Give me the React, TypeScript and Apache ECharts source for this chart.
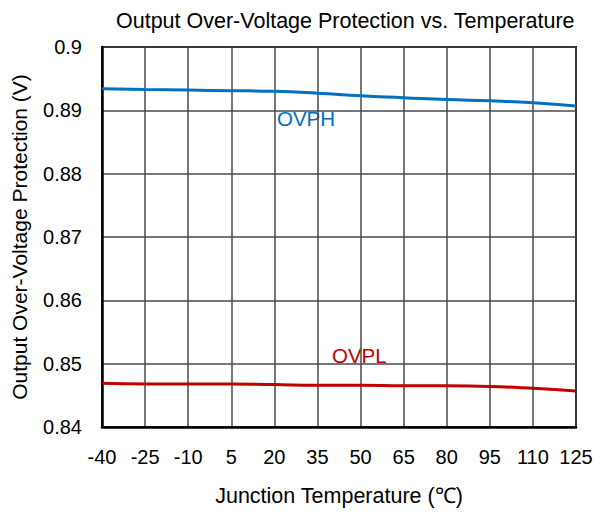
import React, { useEffect, useRef } from "react";
import * as echarts from "echarts";

const temps = ["-40", "-25", "-10", "5", "20", "35", "50", "65", "80", "95", "110", "125"];
const ovph = [0.8934, 0.8933, 0.8932, 0.8931, 0.893, 0.8927, 0.8923, 0.892, 0.8917, 0.8915, 0.8912, 0.8907];
const ovpl = [0.8469, 0.8468, 0.8468, 0.8468, 0.8467, 0.8466, 0.8466, 0.8465, 0.8465, 0.8464, 0.8461, 0.8457];
const yMin = 0.84;
const yMax = 0.9;
const yStep = 0.01;

const FONT = "Arial, 'Liberation Sans', sans-serif";

export default function App() {
  const ref = useRef<HTMLDivElement>(null);
  useEffect(() => {
    document.body.style.margin = "0";
    const chart = echarts.init(ref.current!, undefined, { renderer: "svg" });
    const gridLine = { show: true, lineStyle: { color: "#4a4a4a", width: 1.5 } };
    chart.setOption({
      animation: false,
      backgroundColor: "#fff",
      textStyle: { fontFamily: FONT },
      title: {
        text: "Output Over-Voltage Protection vs. Temperature",
        left: 111,
        top: 5,
        textStyle: { fontFamily: FONT, fontSize: 21.5, fontWeight: "normal", color: "#000" },
      },
      grid: {
        left: 102,
        right: 27,
        top: 47,
        bottom: 89,
        show: true,
        borderColor: "#000",
        borderWidth: 2,
        backgroundColor: "transparent",
      },
      xAxis: {
        type: "category",
        data: temps,
        boundaryGap: false,
        name: "Junction Temperature (℃)",
        nameLocation: "middle",
        nameGap: 58,
        nameTextStyle: { fontFamily: FONT, fontSize: 21.5, color: "#000" },
        axisLine: { show: true, lineStyle: { color: "#000", width: 2.5 } },
        axisTick: { show: false },
        axisLabel: { fontFamily: FONT, fontSize: 20, color: "#000", margin: 20, interval: 0 },
        splitLine: gridLine,
      },
      yAxis: {
        type: "value",
        min: yMin,
        max: yMax,
        interval: yStep,
        name: "Output Over-Voltage Protection (V)",
        nameLocation: "middle",
        nameGap: 72,
        nameTextStyle: { fontFamily: FONT, fontSize: 21, color: "#000" },
        axisLine: { show: true, lineStyle: { color: "#000", width: 2.5 } },
        axisTick: { show: false },
        axisLabel: {
          fontFamily: FONT,
          fontSize: 20,
          color: "#000",
          margin: 20,
          formatter: (v: number) => String(+v.toFixed(2)),
        },
        splitLine: gridLine,
      },
      series: [
        {
          name: "OVPH",
          type: "line",
          data: ovph,
          smooth: true,
          symbol: "none",
          lineStyle: { color: "#0070C0", width: 3 },
          z: 3,
        },
        {
          name: "OVPL",
          type: "line",
          data: ovpl,
          smooth: true,
          symbol: "none",
          lineStyle: { color: "#C00000", width: 3 },
          z: 3,
        },
      ],
      graphic: [
        {
          type: "group",
          z: 100,
          children: [
            { type: "rect", shape: { x: 275, y: 102, width: 77, height: 33 }, style: { fill: "#fff" } },
            {
              type: "text",
              x: 277,
              y: 118,
              style: { text: "OVPH", fill: "#0070C0", font: `20.5px ${FONT}`, verticalAlign: "middle" },
            },
            { type: "rect", shape: { x: 331, y: 339, width: 77, height: 33 }, style: { fill: "#fff" } },
            {
              type: "text",
              x: 332,
              y: 355,
              style: { text: "OVPL", fill: "#C00000", font: `20.5px ${FONT}`, verticalAlign: "middle" },
            },
          ],
        },
      ],
    });
    return () => chart.dispose();
  }, []);
  return <div ref={ref} style={{ width: 603, height: 516 }} />;
}
